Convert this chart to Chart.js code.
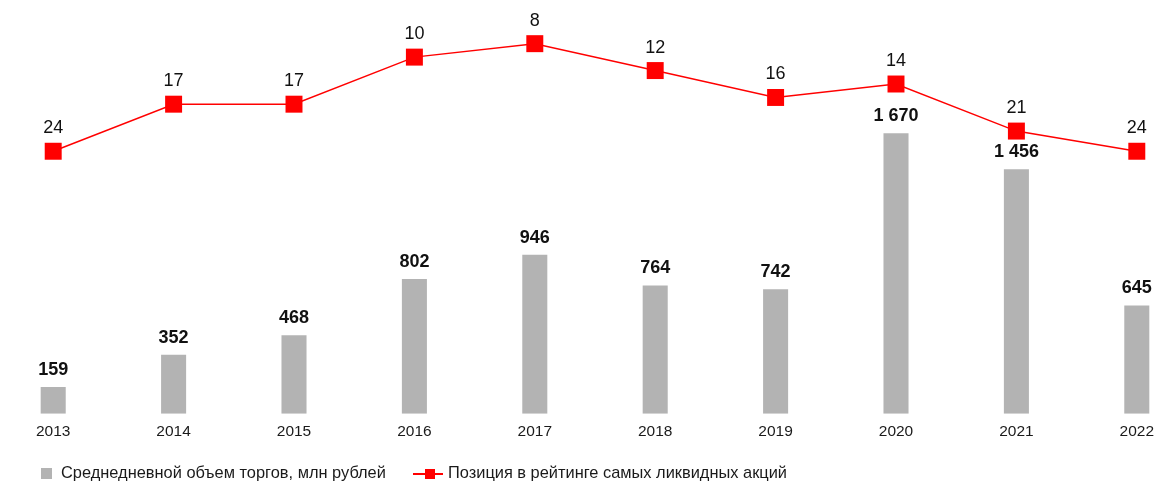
<!DOCTYPE html>
<html>
<head>
<meta charset="utf-8">
<script src="https://cdn.jsdelivr.net/npm/chart.js@4.4.0/dist/chart.umd.min.js"></script>
<style>
  html, body { margin: 0; padding: 0; width: 1157px; height: 481px; overflow: hidden; background: #fff; position: relative; }
  #c { position: absolute; left: -7px; top: 0; }
  .lg { position: absolute; font-family: "Liberation Sans", Arial, sans-serif; font-size: 16.4px; color: #1a1a1a; white-space: nowrap; line-height: 20px; top: 462px; }
  .box { position: absolute; }
</style>
</head>
<body>
<canvas id="c" width="1204" height="481"></canvas>
<div class="box" style="left:41px;top:468px;width:11px;height:11px;background:#b3b3b3;"></div>
<div class="lg" id="lg1" style="left:61px;"></div>
<div class="box" style="left:413px;top:473px;width:30px;height:1.5px;background:#ff0000;"></div>
<div class="box" style="left:425px;top:468.5px;width:10px;height:10px;background:#ff0000;"></div>
<div class="lg" id="lg2" style="left:448px;"></div>
<script>
const years = ["2013","2014","2015","2016","2017","2018","2019","2020","2021","2022"];
const volume = [159, 352, 468, 802, 946, 764, 742, 1670, 1456, 645];
const rank = [24, 17, 17, 10, 8, 12, 16, 14, 21, 24];
const volumeLabel = "Среднедневной объем торгов, млн рублей";
const rankLabel = "Позиция в рейтинге самых ликвидных акций";

document.getElementById("lg1").textContent = volumeLabel;
document.getElementById("lg2").textContent = rankLabel;

function fmt(v) {
  return String(v).replace(/\B(?=(\d{3})+(?!\d))/g, " ");
}

const labelPlugin = {
  id: "valueLabels",
  afterDatasetsDraw(chart) {
    const ctx = chart.ctx;
    ctx.save();
    ctx.textAlign = "center";
    ctx.textBaseline = "middle";
    ctx.fillStyle = "#111111";
    chart.data.datasets.forEach((ds, i) => {
      const meta = chart.getDatasetMeta(i);
      meta.data.forEach((el, j) => {
        if (ds.type === "bar") {
          ctx.font = "bold 18px 'Liberation Sans', Arial, sans-serif";
          ctx.fillText(fmt(ds.data[j]), el.x, el.y - 17);
        } else {
          ctx.font = "18px 'Liberation Sans', Arial, sans-serif";
          ctx.fillText(String(ds.data[j]), el.x, el.y - 23);
        }
      });
    });
    ctx.restore();
  }
};

new Chart(document.getElementById("c"), {
  data: {
    labels: years,
    datasets: [
      {
        type: "line",
        label: rankLabel,
        data: rank,
        yAxisID: "yRank",
        borderColor: "#ff0000",
        backgroundColor: "#ff0000",
        borderWidth: 1.5,
        pointStyle: "rect",
        pointRadius: 12,
        pointHoverRadius: 12,
        pointBorderWidth: 0,
        pointBackgroundColor: "#ff0000",
        tension: 0,
        clip: false,
        order: 0
      },
      {
        type: "bar",
        label: volumeLabel,
        data: volume,
        yAxisID: "yVol",
        backgroundColor: "#b3b3b3",
        borderWidth: 0,
        categoryPercentage: 1,
        barPercentage: 0.208,
        order: 1
      }
    ]
  },
  options: {
    responsive: false,
    animation: false,
    layout: { autoPadding: false, padding: { left: 0, right: 0, top: 0, bottom: 32.2 } },
    plugins: { legend: { display: false }, tooltip: { enabled: false } },
    scales: {
      x: {
        offset: true,
        grid: { display: false, drawTicks: false },
        border: { display: false },
        ticks: { padding: 8.2, color: "#1a1a1a", font: { family: "'Liberation Sans', Arial, sans-serif", size: 15.5 } }
      },
      yVol: {
        display: false,
        min: 0,
        max: 2463
      },
      yRank: {
        display: false,
        reverse: true,
        min: 1.505,
        max: 63.05
      }
    }
  },
  plugins: [labelPlugin]
});
</script>
</body>
</html>
